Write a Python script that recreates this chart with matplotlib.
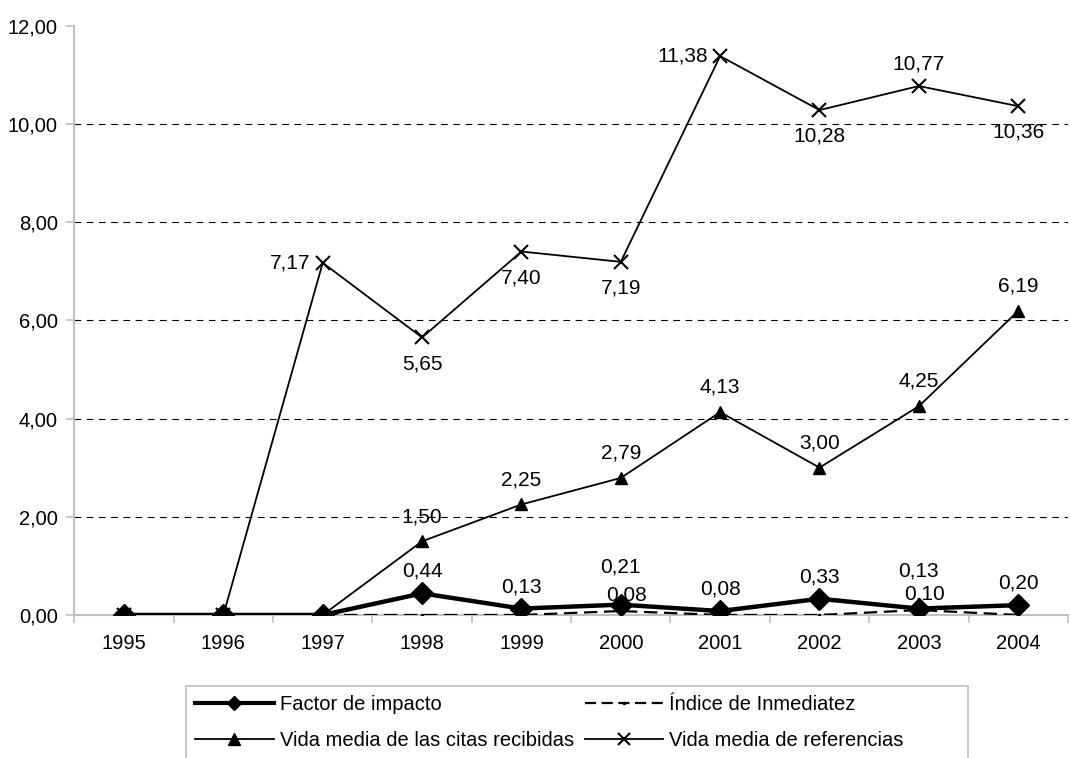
import matplotlib
matplotlib.use("Agg")
import matplotlib.pyplot as plt
from matplotlib.lines import Line2D
from matplotlib.patches import Rectangle

plt.rcParams['font.family'] = ['Liberation Sans', 'DejaVu Sans']

years = ['1995', '1996', '1997', '1998', '1999', '2000', '2001', '2002', '2003', '2004']
factor_impacto = [0, 0, 0, 0.44, 0.13, 0.21, 0.08, 0.33, 0.13, 0.20]
indice_inmediatez = [0, 0, 0, 0, 0, 0.08, 0, 0, 0.10, 0]
vida_citas = [0, 0, 0, 1.50, 2.25, 2.79, 4.13, 3.00, 4.25, 6.19]
vida_referencias = [0, 0, 7.17, 5.65, 7.40, 7.19, 11.38, 10.28, 10.77, 10.36]
y_ticks = [0, 2, 4, 6, 8, 10, 12]

fig = plt.figure(figsize=(10.7, 7.58), dpi=100)
ax = fig.add_axes([0.0695, 0.1887, 0.9285, 0.7775])
x = list(range(len(years)))

ax.plot(x, vida_referencias, color='black', lw=1.3, marker='x', ms=10, mew=1.5, zorder=3)
ax.plot(x, vida_citas, color='black', lw=1.3, marker='^', ms=9, zorder=3)
ax.plot(x, indice_inmediatez, color='black', lw=1.6, ls=(0, (6, 3)), marker='.', ms=3, zorder=4)
ax.plot(x, factor_impacto, color='black', lw=3.2, marker='D', ms=11, zorder=5)

def fmt(v):
    return f"{v:.2f}".replace('.', ',')

fs = 15
ref_pos = {2: 'left', 3: 'below', 4: 'below', 5: 'below', 6: 'left', 7: 'below', 8: 'above', 9: 'below'}
for i, p in ref_pos.items():
    v = vida_referencias[i]
    if p == 'left':
        ax.annotate(fmt(v), (i, v), xytext=(-9, 0), textcoords='offset points', ha='right', va='center', fontsize=fs)
    elif p == 'below':
        ax.annotate(fmt(v), (i, v), xytext=(0, -12), textcoords='offset points', ha='center', va='top', fontsize=fs)
    else:
        ax.annotate(fmt(v), (i, v), xytext=(0, 9), textcoords='offset points', ha='center', va='bottom', fontsize=fs)
for i, v in enumerate(vida_citas):
    if v > 0:
        ax.annotate(fmt(v), (i, v), xytext=(0, 11), textcoords='offset points', ha='center', va='bottom', fontsize=fs)
for i, v in enumerate(factor_impacto):
    if v > 0:
        dy = 20 if i in (5, 8) else 9
        ax.annotate(fmt(v), (i, v), xytext=(0, dy), textcoords='offset points', ha='center', va='bottom', fontsize=fs)
for i, v in enumerate(indice_inmediatez):
    if v > 0:
        ax.annotate(fmt(v), (i, v), xytext=(4, 5), textcoords='offset points', ha='center', va='bottom', fontsize=fs)

ax.set_xlim(-0.5, len(years) - 0.5)
ax.set_ylim(0, 12)
ax.set_yticks(y_ticks)
ax.set_yticklabels([fmt(t) for t in y_ticks], fontsize=14.5)
ax.set_xticks(x)
ax.set_xticklabels(years, fontsize=14.5)
ax.set_xticks([i + 0.5 for i in range(-1, len(years))], minor=True)
ax.tick_params(axis='x', which='major', length=0, pad=14)
ax.tick_params(axis='x', which='minor', length=6, color='#c0c0c0', width=1.2)
ax.tick_params(axis='y', length=6, color='#c0c0c0', width=1.2, pad=6)
for t in y_ticks[1:-1]:
    ax.axhline(t, color='black', lw=0.8, ls=(0, (6, 5)), zorder=1)
for s in ['top', 'right']:
    ax.spines[s].set_visible(False)
for s in ['left', 'bottom']:
    ax.spines[s].set_color('#c0c0c0')
    ax.spines[s].set_linewidth(1.5)
ax.spines['bottom'].set_zorder(0)

handles = [
    Line2D([], [], color='black', lw=3, marker='D', ms=7),
    Line2D([], [], color='black', lw=1.3, marker='^', ms=9),
    Line2D([], [], color='black', lw=1.6, ls=(0, (5, 2.5)), marker='.', ms=3),
    Line2D([], [], color='black', lw=1.3, marker='x', ms=9, mew=1.5),
]
labels = ['Factor de impacto', 'Vida media de las citas recibidas',
          'Índice de Inmediatez', 'Vida media de referencias']
leg = fig.legend(handles, labels, ncol=2,
                 loc='upper left', bbox_to_anchor=(186 / 1070, 1 - 686 / 758),
                 borderaxespad=0, fontsize=14.5, frameon=False,
                 handlelength=3.9, handletextpad=0.3, columnspacing=0.55,
                 borderpad=0.45, labelspacing=0.85)
frame = Rectangle((186 / 1070, -0.01), (968 - 186) / 1070, (758 - 686) / 758 + 0.01,
                  transform=fig.transFigure, fill=False, edgecolor='#c0c0c0', lw=1.2)
fig.patches.append(frame)

fig.savefig('out.png', dpi=100)
